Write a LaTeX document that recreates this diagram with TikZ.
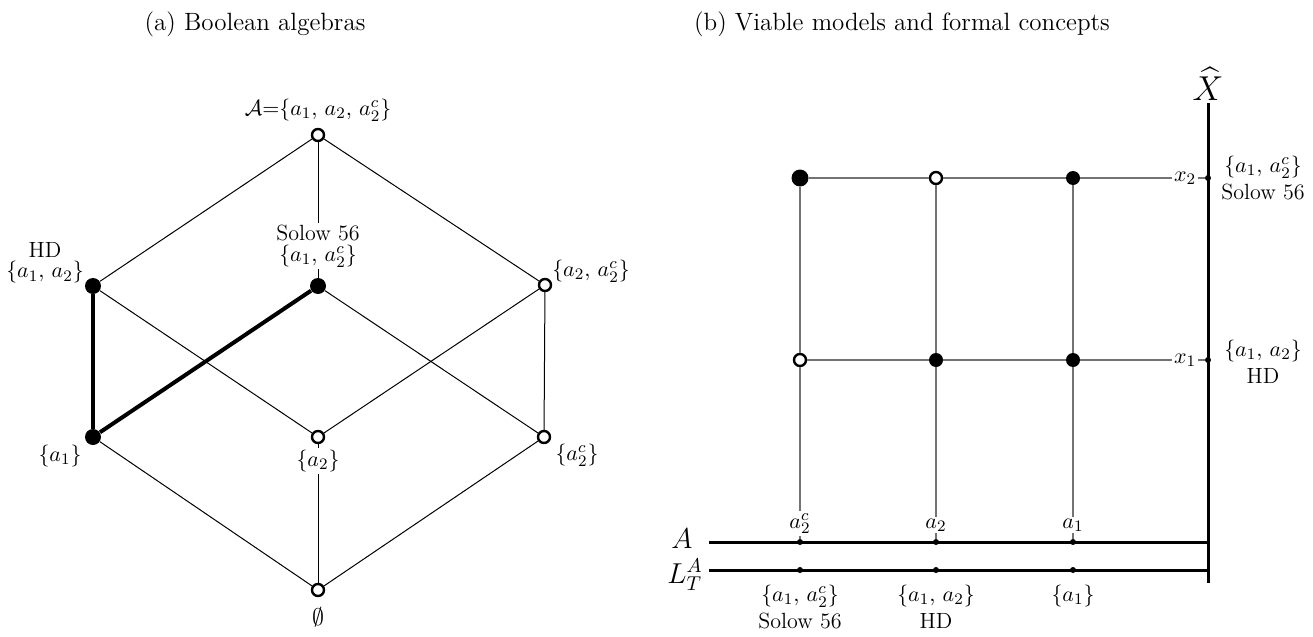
\documentclass[tikz,border=0pt]{standalone}
\usepackage{amsmath,amssymb}
\usepackage{tikz}

\begin{document}
\begin{tikzpicture}[x=0.5pt,y=-0.5pt,
  vide/.style={circle,draw,line width=1.2pt,fill=white,minimum size=6pt,inner sep=0pt},
  plein/.style={circle,fill,minimum size=8pt,inner sep=0pt},
  pt/.style={circle,fill,minimum size=3pt,inner sep=0pt},
  lab/.style={inner sep=1pt,align=center,font=\fontsize{11}{13.6}\selectfont},
  cache/.style={lab,fill=white},
  fin/.style={line width=0.5pt},
  gros/.style={line width=2pt},
  grille/.style={line width=0.6pt,black!55},
  axe/.style={line width=1.5pt}]
\useasboundingbox (0,0) rectangle (1313,637);
\node (ta) at (255,24) {\fontsize{12.5}{15}\selectfont (a) Boolean algebras};
\node (tb) at (902,24) {\fontsize{12.5}{15}\selectfont (b) Viable models and formal concepts};

\node[vide] (top) at (318,135) {};
\node[plein] (hd) at (93,286) {};
\node[plein] (sol) at (318,286) {};
\node[vide] (a2ac) at (545,285) {};
\node[plein] (a1) at (93,437) {};
\node[vide] (a2) at (318,437) {};
\node[vide] (ac) at (544,437) {};
\node[vide] (bot) at (318,590) {};
\foreach \u/\v in {top/hd,top/sol,top/a2ac,hd/a2,sol/ac,a2ac/a2,a2ac/ac,a1/bot,a2/bot,ac/bot}
  \draw[fin] (\u) -- (\v);
\draw[gros] (hd) -- (a1);
\draw[gros] (sol) -- (a1);
\node[lab] (ltop) at (318,110) {$\mathcal{A}{=}\{a_1,\, a_2,\, a_2^c\}$};
\node[lab] (lhd) at (45,263) {HD\\[-3.5pt]$\{a_1,\, a_2\}$};
\node[cache] (lsol) at (318,246) {Solow 56\\[-3pt]$\{a_1,\, a_2^c\}$};
\node[lab] (la2ac) at (591,271) {$\{a_2,\, a_2^c\}$};
\node[lab] (la1) at (60,456) {$\{a_1\}$};
\node[cache] (la2) at (318,461) {$\{a_2\}$};
\node[lab] (lac) at (577,455) {$\{a_2^c\}$};
\node[lab] (lbot) at (318,617) {\fontsize{13}{15}\selectfont$\emptyset$};

\coordinate (Xh) at (1208,103); \coordinate (Xb) at (1208,583);
\coordinate (A0) at (709,542); \coordinate (Ab) at (1208,542);
\coordinate (L0) at (709,570); \coordinate (Lb) at (1208,570);
\draw[axe] (Xh) -- (Xb);
\draw[axe] (A0) -- (Ab);
\draw[axe] (L0) -- (Lb);
\node (lX) at (1208,84) {\fontsize{16}{18}\selectfont$\widehat{X}$};
\node[pt] (X2) at (1208,178) {};
\node[pt] (X1) at (1208,360) {};
\foreach \x/\i in {800/1,936/2,1073/3}
  {\node[pt] (A\i) at (\x,542) {}; \node[pt] (L\i) at (\x,570) {};}
\node[plein,minimum size=8.5pt] (h1) at (800,178) {};
\node[vide] (h2) at (936,178) {};
\node[plein,minimum size=7pt] (h3) at (1073,178) {};
\node[vide] (b1) at (800,360) {};
\node[plein,minimum size=7pt] (b2) at (936,360) {};
\node[plein,minimum size=7pt] (b3) at (1073,360) {};
\foreach \u/\v in {h1/h2,h2/h3,h3/X2,b1/b2,b2/b3,b3/X1,h1/b1,h2/b2,h3/b3,b1/A1,b2/A2,b3/A3}
  \draw[grille] (\u) -- (\v);
\node[cache] (lx2) at (1185,178) {$x_2$};
\node[cache] (lx1) at (1185,360) {$x_1$};
\node[lab] (lr2) at (1263,178) {$\{a_1,\, a_2^c\}$\\Solow 56};
\node[lab] (lr1) at (1263,362) {$\{a_1,\, a_2\}$\\HD};
\node[cache,anchor=base] (lac2) at (800,528) {$a_2^c$};
\node[cache,anchor=base] (lab2) at (936,528) {$a_2$};
\node[cache,anchor=base] (lab1) at (1073,528) {$a_1$};
\node (lA) at (682,539) {\fontsize{14}{16}\selectfont$A$};
\node (lL) at (685,575) {\fontsize{14}{16}\selectfont$L_T^A$};
\node[lab] (ls) at (800,607) {$\{a_1,\, a_2^c\}$\\Solow 56};
\node[lab] (lh) at (936,607) {$\{a_1,\, a_2\}$\\HD};
\node[lab] (l1) at (1073,596) {$\{a_1\}$};
\end{tikzpicture}
\end{document}
